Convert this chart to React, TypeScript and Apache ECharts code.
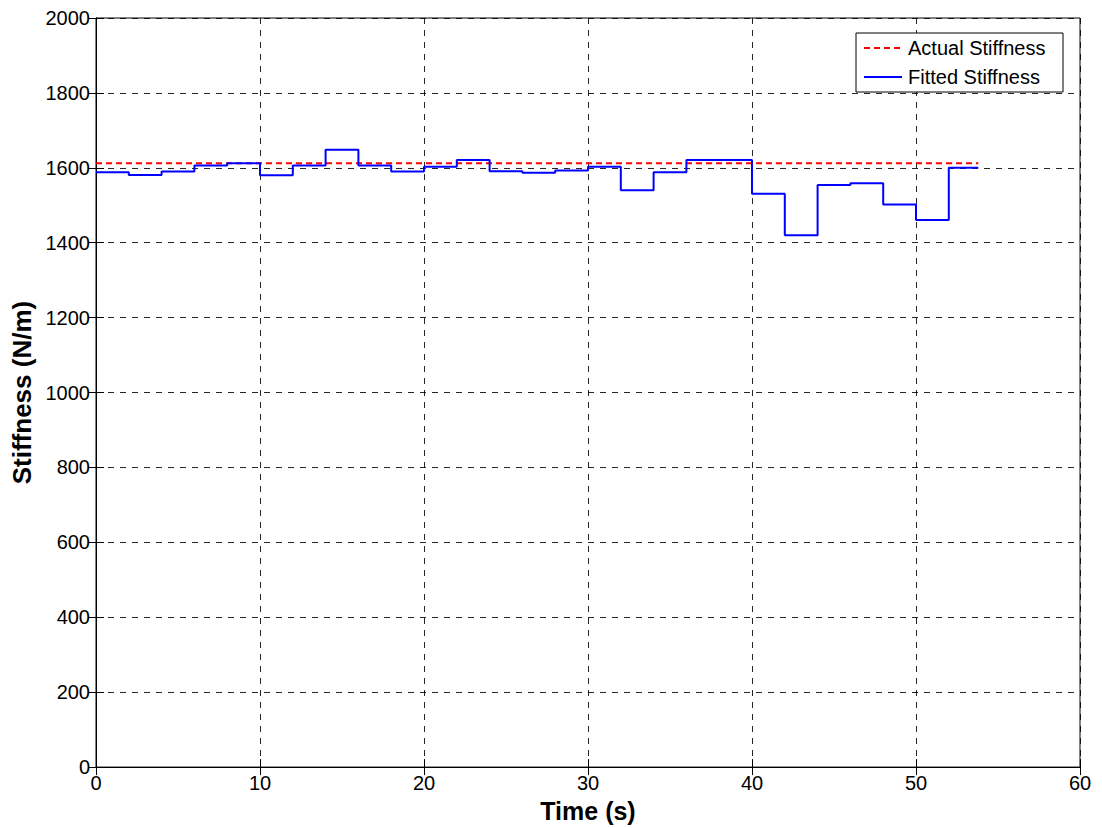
import React, { useEffect, useRef } from "react";
import * as echarts from "echarts";

// Start time (s) of each 2-second fitting window
const windowStarts = [
  0, 2, 4, 6, 8, 10, 12, 14, 16, 18, 20, 22, 24, 26, 28, 30, 32, 34, 36, 38,
  40, 42, 44, 46, 48, 50, 52,
];
// Fitted stiffness (N/m) for each window
const fittedValues = [
  1588, 1581, 1590, 1606, 1612, 1580, 1606, 1648, 1606, 1590, 1603, 1621,
  1591, 1587, 1593, 1603, 1540, 1588, 1621, 1621, 1531, 1420, 1554, 1559,
  1502, 1461, 1600,
];
const endTime = 53.8;
const actualStiffness = 1612;
const legendNames = ["Actual Stiffness", "Fitted Stiffness"];

const FONT = "Liberation Sans, Arial, sans-serif";
const RED = "#ff0000";
const BLUE = "#0000ff";

export default function App() {
  const ref = useRef<HTMLDivElement>(null);

  useEffect(() => {
    if (!ref.current) return;
    const chart = echarts.init(ref.current, null, { renderer: "svg" });

    const fittedData: [number, number][] = windowStarts.map((t, i) => [
      t,
      fittedValues[i],
    ]);
    fittedData.push([endTime, fittedValues[fittedValues.length - 1]]);

    const actualData: [number, number][] = [
      [0, actualStiffness],
      [endTime, actualStiffness],
    ];

    const gridLine = {
      show: true,
      lineStyle: { color: "#000", type: [6, 6] as number[], width: 1, opacity: 0.85 },
    };

    // Boxed legend in the upper right corner
    const legendBox = { x: 856, y: 33, w: 207, h: 59 };
    const rowY = [48, 77];
    const legendGraphic = [
      {
        type: "rect",
        shape: { x: legendBox.x, y: legendBox.y, width: legendBox.w, height: legendBox.h },
        style: { fill: "#fff", stroke: "#000", lineWidth: 1 },
        z: 100,
      },
      {
        type: "line",
        shape: { x1: 864, y1: rowY[0], x2: 902, y2: rowY[0] },
        style: { stroke: RED, lineWidth: 2, lineDash: [6, 4] },
        z: 101,
      },
      {
        type: "line",
        shape: { x1: 864, y1: rowY[1], x2: 902, y2: rowY[1] },
        style: { stroke: BLUE, lineWidth: 2 },
        z: 101,
      },
      ...legendNames.map((name, i) => ({
        type: "text",
        x: 908,
        y: rowY[i],
        style: {
          text: name,
          fill: "#000",
          font: `20px ${FONT}`,
          verticalAlign: "middle",
          align: "left",
        },
        z: 101,
      })),
    ];

    const plainNumber = (v: number) => String(v);

    chart.setOption({
      animation: false,
      backgroundColor: "#fff",
      textStyle: { fontFamily: FONT },
      grid: {
        left: 96,
        right: 22,
        top: 18,
        bottom: 58,
        show: true,
        borderColor: "#000",
        borderWidth: 1,
      },
      graphic: legendGraphic,
      xAxis: [
        {
          type: "value",
          min: 0,
          max: 60,
          interval: 10,
          name: "Time (s)",
          nameLocation: "middle",
          nameGap: 30,
          nameTextStyle: {
            fontSize: 25,
            fontWeight: "bold",
            color: "#000",
            fontFamily: FONT,
          },
          axisLine: { show: true, lineStyle: { color: "#000" } },
          axisTick: { show: true, inside: true, length: 8, lineStyle: { color: "#000" } },
          axisLabel: {
            fontSize: 20,
            color: "#000",
            margin: 6,
            fontFamily: FONT,
            formatter: plainNumber,
          },
          splitLine: gridLine,
        },
        {
          type: "value",
          position: "top",
          min: 0,
          max: 60,
          interval: 10,
          axisLine: { show: true, lineStyle: { color: "#000" } },
          axisTick: { show: true, inside: true, length: 8, lineStyle: { color: "#000" } },
          axisLabel: { show: false },
          splitLine: { show: false },
        },
      ],
      yAxis: [
        {
          type: "value",
          min: 0,
          max: 2000,
          interval: 200,
          name: "Stiffness (N/m)",
          nameLocation: "middle",
          nameGap: 58,
          nameTextStyle: {
            fontSize: 26,
            fontWeight: "bold",
            color: "#000",
            fontFamily: FONT,
          },
          axisLine: { show: true, lineStyle: { color: "#000" } },
          axisTick: { show: true, inside: true, length: 8, lineStyle: { color: "#000" } },
          axisLabel: {
            fontSize: 20,
            color: "#000",
            margin: 6,
            fontFamily: FONT,
            formatter: plainNumber,
          },
          splitLine: gridLine,
        },
        {
          type: "value",
          position: "right",
          min: 0,
          max: 2000,
          interval: 200,
          axisLine: { show: true, lineStyle: { color: "#000" } },
          axisTick: { show: true, inside: true, length: 8, lineStyle: { color: "#000" } },
          axisLabel: { show: false },
          splitLine: { show: false },
        },
      ],
      series: [
        {
          name: legendNames[0],
          type: "line",
          xAxisIndex: 0,
          yAxisIndex: 0,
          data: actualData,
          symbol: "none",
          itemStyle: { color: RED },
          lineStyle: { color: RED, width: 2, type: [6, 4] },
          z: 3,
        },
        {
          name: legendNames[1],
          type: "line",
          xAxisIndex: 0,
          yAxisIndex: 0,
          data: fittedData,
          step: "end",
          symbol: "none",
          itemStyle: { color: BLUE },
          lineStyle: { color: BLUE, width: 2 },
          z: 4,
        },
      ],
    });

    return () => chart.dispose();
  }, []);

  return (
    <div
      ref={ref}
      style={{ width: 1102, height: 828, position: "absolute", left: 0, top: 0 }}
    />
  );
}
